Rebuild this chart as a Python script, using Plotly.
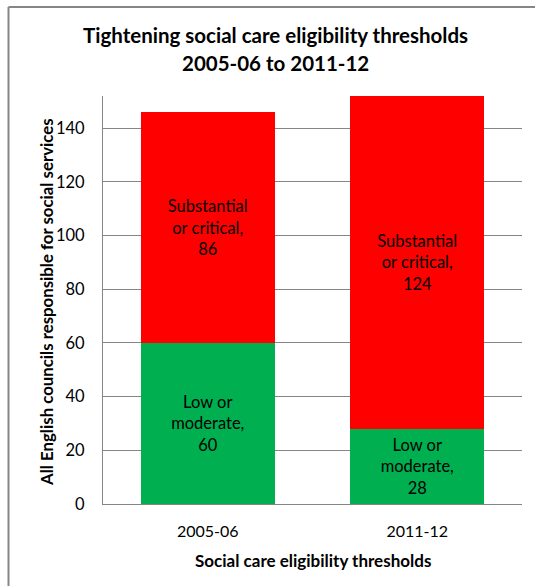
import plotly.graph_objects as go

categories = ["2005-06", "2011-12"]
low_values = [60, 28]
high_values = [86, 124]
low_label = ["Low or", "moderate,"]
high_label = ["Substantial", "or critical,"]
y_ticks = [0, 20, 40, 60, 80, 100, 120, 140]

W, H = 535, 586
ML, MR, MT, MB = 103, 13, 96, 82
PW, PH = W - ML - MR, H - MT - MB

def px(x):
    return (x - ML) / PW

def py(y):
    return (H - MB - y) / PH

FONT = "Lato"
GRAY = "#868686"

def lab(parts, v):
    return "<br>".join(parts + [str(v)])

fig = go.Figure()
fig.add_trace(go.Bar(
    x=categories, y=low_values, name="Low or moderate",
    marker=dict(color="#00B050", line=dict(width=0)),
    text=[lab(low_label, v) for v in low_values],
    textposition="inside", insidetextanchor="middle",
    textfont=dict(family=FONT, size=16.5, color="#000000"),
    textangle=0, width=0.64,
))
fig.add_trace(go.Bar(
    x=categories, y=high_values, name="Substantial or critical",
    marker=dict(color="#FF0000", line=dict(width=0)),
    text=[lab(high_label, v) for v in high_values],
    textposition="inside", insidetextanchor="middle",
    textfont=dict(family=FONT, size=16.5, color="#000000"),
    textangle=0, width=0.64,
))

annotations = [
    dict(text="<b>Tightening social care eligibility thresholds</b>", x=px(275.6), y=py(35),
         xref="paper", yref="paper", xanchor="center", yanchor="middle", showarrow=False,
         font=dict(family=FONT, size=20.5, color="#000000")),
    dict(text="<b>2005-06 to 2011-12</b>", x=px(275.6), y=py(63),
         xref="paper", yref="paper", xanchor="center", yanchor="middle", showarrow=False,
         font=dict(family=FONT, size=20.5, color="#000000")),
    dict(text="<b>All English councils responsible for social services</b>", x=px(46), y=py(302),
         xref="paper", yref="paper", xanchor="center", yanchor="middle", showarrow=False,
         textangle=-90, font=dict(family=FONT, size=16.8, color="#000000")),
    dict(text="<b>Social care eligibility thresholds</b>", x=px(313), y=py(560),
         xref="paper", yref="paper", xanchor="center", yanchor="middle", showarrow=False,
         font=dict(family=FONT, size=17, color="#000000")),
]

shapes = [
    dict(type="line", xref="paper", yref="paper", x0=px(8.5), y0=py(7), x1=px(540), y1=py(7),
         line=dict(color=GRAY, width=2)),
    dict(type="line", xref="paper", yref="paper", x0=px(8.5), y0=py(7), x1=px(8.5), y1=py(600),
         line=dict(color=GRAY, width=2)),
]

fig.update_layout(
    width=W, height=H,
    margin=dict(l=ML, r=MR, t=MT, b=MB, pad=0),
    barmode="stack", bargap=0.36,
    paper_bgcolor="white", plot_bgcolor="white",
    showlegend=False,
    annotations=annotations, shapes=shapes,
    font=dict(family=FONT, size=16, color="#000000"),
    uniformtext=dict(minsize=16, mode="show"),
)
fig.update_yaxes(range=[0, 152], tickvals=y_ticks, showgrid=True, gridcolor=GRAY, gridwidth=1,
                 showline=True, linecolor=GRAY, linewidth=1, ticks="", zeroline=False,
                 tickfont=dict(family=FONT, size=16.5, color="#000000"), ticklabelstandoff=14)
fig.update_xaxes(type="category", showline=True, linecolor=GRAY, linewidth=1, ticks="", showgrid=False,
                 tickfont=dict(family=FONT, size=16, color="#000000"), ticklabelstandoff=13)

fig.write_html("out.html", config={"displayModeBar": False},
               post_script="document.body.style.margin='0';document.body.style.overflow='hidden';")
